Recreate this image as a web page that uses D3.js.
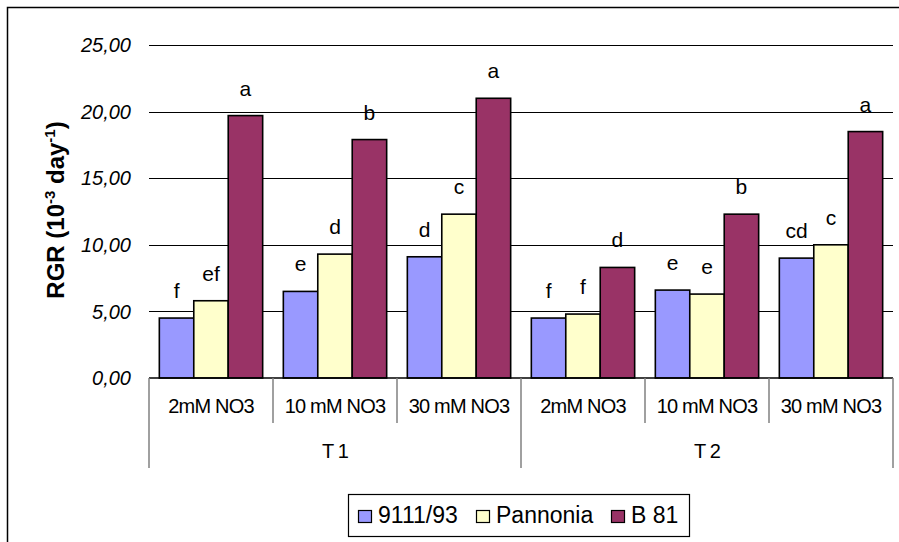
<!DOCTYPE html>
<html><head><meta charset="utf-8">
<script src="https://cdn.jsdelivr.net/npm/d3@7"></script>
<style>body{margin:0;background:#fff}svg{display:block;font-family:Arial,"Liberation Sans",sans-serif}</style>
</head><body>
<svg id="c" width="899" height="542"></svg>
<script>
const categories = ["2mM NO3","10 mM NO3","30 mM NO3","2mM NO3","10 mM NO3","30 mM NO3"];
const groups = ["T 1","T 2"];
const seriesNames = ["9111/93","Pannonia","B 81"];
const s9111 = [4.5, 6.5, 9.1, 4.5, 6.6, 9.0];
const sPannonia = [5.8, 9.3, 12.3, 4.8, 6.3, 10.0];
const sB81 = [19.7, 17.9, 21.0, 8.3, 12.3, 18.5];
const lab9111 = ["f","e","d","f","e","cd"];
const labPannonia = ["ef","d","c","f","e","c"];
const labB81 = ["a","b","a","d","b","a"];
const yTicks = [0,5,10,15,20,25];
const colors = ["#9999FF","#FFFFCC","#993366"];

(function(){
const series = [s9111, sPannonia, sB81];
const labels = [lab9111, labPannonia, labB81];
const svg = d3.select("#c");

// outer frame
svg.append("rect").attr("x",7.5).attr("y",7.5).attr("width",900).attr("height",600)
  .attr("fill","none").attr("stroke","#000").attr("stroke-width",1.5);

const pL=149, pR=893, pT=45, pB=378;
const y = d3.scaleLinear().domain([0,25]).range([pB,pT]);
const idx = d3.range(categories.length);
const x0 = d3.scaleBand().domain(idx).range([pL,pR]).padding(0);
const bw = x0.bandwidth();
// Excel gap width 60%
const barW = bw/3.6;
const xb = d3.scaleBand().domain(d3.range(3)).range([0.3*barW, bw-0.3*barW]);

// gridlines
svg.append("g").selectAll("line").data(yTicks.filter(t=>t>0)).join("line")
  .attr("x1",pL).attr("x2",pR).attr("y1",d=>Math.round(y(d))+0.5).attr("y2",d=>Math.round(y(d))+0.5)
  .attr("stroke","#000").attr("stroke-width",1);

// y tick labels
svg.append("g").selectAll("text").data(yTicks).join("text")
  .attr("x",131).attr("y",d=>y(d)).attr("dy","0.36em").attr("text-anchor","end")
  .attr("font-size",20).attr("font-style","italic").attr("fill","#000")
  .text(d=>d3.format(".2f")(d).replace(".",","));

// bars
const g = svg.append("g");
series.forEach((s,si)=>{
  g.selectAll(".b"+si).data(idx).join("rect").attr("class","b"+si)
    .attr("x",i=>x0(i)+xb(si)).attr("width",xb.bandwidth())
    .attr("y",i=>y(s[i])).attr("height",i=>y(0)-y(s[i]))
    .attr("fill",colors[si]).attr("stroke","#000").attr("stroke-width",1.6);
  g.selectAll(".l"+si).data(idx).join("text").attr("class","l"+si)
    .attr("x",i=>x0(i)+xb(si)+xb.bandwidth()/2).attr("y",i=>y(s[i])-20)
    .attr("text-anchor","middle").attr("font-size",21).attr("fill","#000")
    .text(i=>labels[si][i]);
});

// category axis
svg.append("line").attr("x1",pL).attr("x2",pR).attr("y1",pB).attr("y2",pB)
  .attr("stroke","#000").attr("stroke-width",1.5);
const sepColor="#808080";
d3.range(categories.length+1).forEach(k=>{
  const xx = k<categories.length ? x0(k) : pR;
  const isGroup = (k%3===0);
  svg.append("line").attr("x1",xx).attr("x2",xx).attr("y1",pB).attr("y2",isGroup?468:423)
    .attr("stroke",sepColor).attr("stroke-width",1.5);
});
svg.append("g").selectAll("text").data(idx).join("text")
  .attr("x",i=>x0(i)+bw/2).attr("y",413).attr("text-anchor","middle")
  .attr("font-size",20).attr("letter-spacing","-0.8px").attr("fill","#000")
  .text(i=>categories[i]);
svg.append("g").selectAll("text").data(groups).join("text")
  .attr("x",(d,j)=>(x0(j*3)+ (j*3+3<categories.length? x0(j*3+3):pR))/2).attr("y",458)
  .attr("text-anchor","middle").attr("font-size",20).attr("letter-spacing","-0.8px").attr("fill","#000")
  .text(d=>d);

// y title
const yt = svg.append("text").attr("transform","translate(64,210) rotate(-90)")
  .attr("text-anchor","middle").attr("font-size",24).attr("font-weight","bold").attr("fill","#000");
yt.append("tspan").text("RGR (10");
yt.append("tspan").attr("font-size",15).attr("dy",-9).text("-3");
yt.append("tspan").attr("dy",9).text(" day");
yt.append("tspan").attr("font-size",15).attr("dy",-9).text("-1");
yt.append("tspan").attr("dy",9).text(")");

// legend
const lg = svg.append("g");
lg.append("rect").attr("x",348.5).attr("y",494.5).attr("width",341).attr("height",42)
  .attr("fill","#fff").attr("stroke","#000").attr("stroke-width",1.2);
const lx = [358, 476, 611];
seriesNames.forEach((n,i)=>{
  lg.append("rect").attr("x",lx[i]+0.5).attr("y",510.5).attr("width",13).attr("height",12)
    .attr("fill",colors[i]).attr("stroke","#000").attr("stroke-width",1.2);
  lg.append("text").attr("x",lx[i]+20).attr("y",523).attr("font-size",23).attr("fill","#000").text(n);
});
})();
</script>
</body></html>
